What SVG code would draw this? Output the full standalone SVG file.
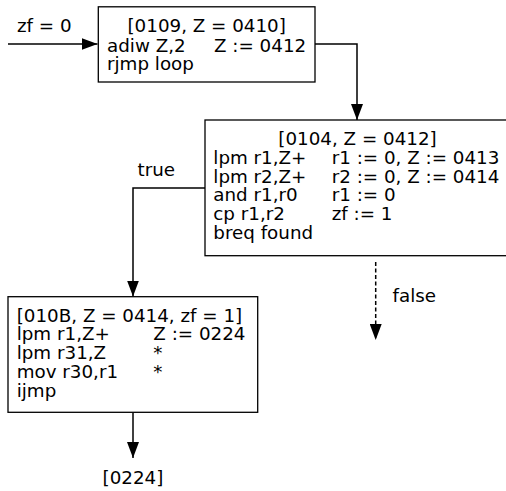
<svg xmlns="http://www.w3.org/2000/svg" width="506" height="491" viewBox="0 0 506 491">
<style>
text{font-family:"DejaVu Sans",sans-serif;font-size:18.3px;fill:#000}
.box{fill:#fff;stroke:#000;stroke-width:1.3}
.c{fill:none;stroke:#000;stroke-width:1.5}
.mid{text-anchor:middle}
</style>
<defs>
<marker id="ah" viewBox="0 0 16 12" refX="16" refY="6" markerWidth="16" markerHeight="12" markerUnits="userSpaceOnUse" orient="auto">
<path d="M0,0 L16,6 L0,12 Z" fill="#000"/>
</marker>
</defs>
<g id="connectors">
<path class="c" d="M8,44 H97.5" stroke-width="2" marker-end="url(#ah)"/>
<text x="17" y="32">zf = 0</text>
<path class="c" d="M315,44 H357 V120" marker-end="url(#ah)"/>
<path class="c" d="M205,188 H133 V296.5" marker-end="url(#ah)"/>
<text x="137.5" y="176">true</text>
<path class="c" d="M375.7,262 V340" stroke-dasharray="4,2.5" marker-end="url(#ah)"/>
<text x="392.5" y="302">false</text>
<path class="c" d="M133,412.5 V458" marker-end="url(#ah)"/>
<text class="mid" x="133" y="484">[0224]</text>
</g>
<g id="node1">
<rect class="box" x="98.3" y="6.8" width="216.7" height="75.2"/>
<text class="mid" x="206.7" y="32.3">[0109, Z = 0410]</text>
<text x="107" y="51.5">adiw Z,2</text>
<text x="214" y="51.5">Z := 0412</text>
<text x="107" y="70.3">rjmp loop</text>
</g>
<g id="node2">
<rect class="box" x="205" y="120" width="310" height="135.7"/>
<text class="mid" x="357.5" y="144.7">[0104, Z = 0412]</text>
<text x="213.3" y="163.6">lpm r1,Z+</text>
<text x="331.7" y="163.6">r1 := 0, Z := 0413</text>
<text x="213.3" y="182.5">lpm r2,Z+</text>
<text x="331.7" y="182.5">r2 := 0, Z := 0414</text>
<text x="213.3" y="201.4">and r1,r0</text>
<text x="331.7" y="201.4">r1 := 0</text>
<text x="213.3" y="220.3">cp r1,r2</text>
<text x="331.7" y="220.3">zf := 1</text>
<text x="213.3" y="239.2">breq found</text>
</g>
<g id="node3">
<rect class="box" x="8" y="296.7" width="249.7" height="115.6"/>
<text x="16.7" y="321.5">[010B, Z = 0414, zf = 1]</text>
<text x="16.7" y="340.4">lpm r1,Z+</text>
<text x="153.3" y="340.4">Z := 0224</text>
<text x="16.7" y="359.3">lpm r31,Z</text>
<text x="153.3" y="359.3">*</text>
<text x="16.7" y="378.2">mov r30,r1</text>
<text x="153.3" y="378.2">*</text>
<text x="16.7" y="397.1">ijmp</text>
</g>
</svg>
